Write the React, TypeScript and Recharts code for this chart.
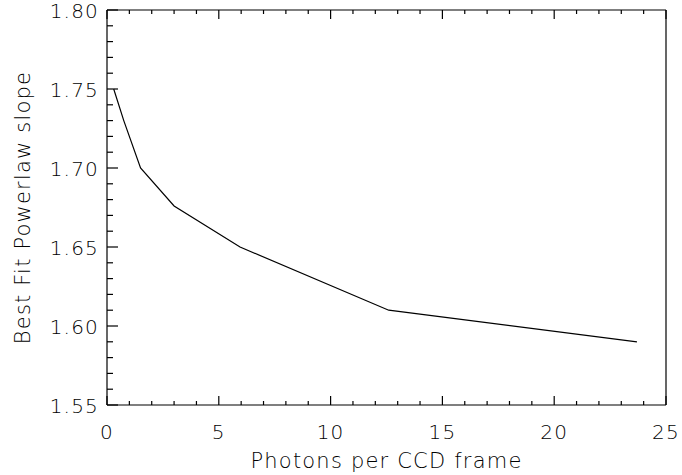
import React from "react";
import { LineChart, Line, XAxis, YAxis } from "recharts";

const photons = [0.3, 0.75, 1.5, 3.0, 5.95, 12.6, 23.7];
const slopes = [1.75, 1.73, 1.7, 1.676, 1.65, 1.61, 1.59];

const xTicks = Array.from({ length: 26 }, (_, i) => i);
const yTicks = Array.from({ length: 26 }, (_, i) => +(1.55 + i * 0.01).toFixed(2));

const data = photons.map((p, i) => ({ photons: p, slope: slopes[i] }));

const FONT = "'DejaVu Sans', sans-serif";
const textStyle = { fontFamily: FONT, fontSize: 20, fontWeight: 200, letterSpacing: 1.2 };

const isMajorX = (v: number) => v % 5 === 0;
const isMajorY = (v: number) => Math.round(v * 100) % 5 === 0;

function BottomTick({ x, y, payload }: any) {
  const major = isMajorX(payload.value);
  return (
    <g>
      <line x1={x} y1={y} x2={x} y2={y - (major ? 9 : 4)} stroke="#000" strokeWidth={1.2} />
      {major && (
        <text x={x} y={y + 34} textAnchor="middle" fill="#000" style={textStyle}>
          {payload.value}
        </text>
      )}
    </g>
  );
}

function TopTick({ x, y, payload }: any) {
  const major = isMajorX(payload.value);
  return <line x1={x} y1={y} x2={x} y2={y + (major ? 9 : 4)} stroke="#000" strokeWidth={1.2} />;
}

function LeftTick({ x, y, payload }: any) {
  const major = isMajorY(payload.value);
  return (
    <g>
      <line x1={x} y1={y} x2={x + (major ? 11 : 6)} y2={y} stroke="#000" strokeWidth={1.2} />
      {major && (
        <text x={x - 8} y={y + 7.5} textAnchor="end" fill="#000" style={textStyle}>
          {payload.value.toFixed(2)}
        </text>
      )}
    </g>
  );
}

function RightTick({ x, y, payload }: any) {
  const major = isMajorY(payload.value);
  return <line x1={x} y1={y} x2={x - (major ? 11 : 6)} y2={y} stroke="#000" strokeWidth={1.2} />;
}

function XTitle({ viewBox }: any) {
  return (
    <text
      x={viewBox.x + viewBox.width / 2}
      y={viewBox.y + 63}
      textAnchor="middle"
      fill="#000"
      style={{ ...textStyle, fontSize: 21 }}
    >
      Photons per CCD frame
    </text>
  );
}

function YTitle({ viewBox }: any) {
  const cx = viewBox.x + 30;
  const cy = viewBox.y + viewBox.height / 2;
  return (
    <text
      x={cx}
      y={cy}
      textAnchor="middle"
      fill="#000"
      transform={`rotate(-90 ${cx} ${cy})`}
      style={{ ...textStyle, fontSize: 21 }}
    >
      Best Fit Powerlaw slope
    </text>
  );
}

export default function App() {
  return (
    <div style={{ position: "absolute", left: 0, top: 0, background: "#fff" }}>
      <LineChart
        width={682}
        height={475}
        data={data}
        margin={{ top: 9, right: 15, bottom: 0, left: 0 }}
      >
        <XAxis
          xAxisId="bottom"
          dataKey="photons"
          type="number"
          domain={[0, 25]}
          ticks={xTicks}
          interval={0}
          height={70}
          tickSize={0}
          tickMargin={0}
          tickLine={false}
          axisLine={{ stroke: "#000", strokeWidth: 1.2 }}
          tick={<BottomTick />}
          label={<XTitle />}
        />
        <XAxis
          xAxisId="top"
          orientation="top"
          dataKey="photons"
          type="number"
          domain={[0, 25]}
          ticks={xTicks}
          interval={0}
          height={1}
          tickSize={0}
          tickMargin={0}
          tickLine={false}
          axisLine={{ stroke: "#000", strokeWidth: 1.2 }}
          tick={<TopTick />}
        />
        <YAxis
          yAxisId="left"
          type="number"
          domain={[1.55, 1.8]}
          ticks={yTicks}
          interval={0}
          width={107}
          tickSize={0}
          tickMargin={0}
          tickLine={false}
          axisLine={{ stroke: "#000", strokeWidth: 1.2 }}
          tick={<LeftTick />}
          label={<YTitle />}
        />
        <YAxis
          yAxisId="right"
          orientation="right"
          type="number"
          domain={[1.55, 1.8]}
          ticks={yTicks}
          interval={0}
          width={1}
          tickSize={0}
          tickMargin={0}
          tickLine={false}
          axisLine={{ stroke: "#000", strokeWidth: 1.2 }}
          tick={<RightTick />}
        />
        <Line
          xAxisId="bottom"
          yAxisId="left"
          type="linear"
          dataKey="slope"
          stroke="#000"
          strokeWidth={1.2}
          dot={false}
          isAnimationActive={false}
        />
      </LineChart>
    </div>
  );
}
